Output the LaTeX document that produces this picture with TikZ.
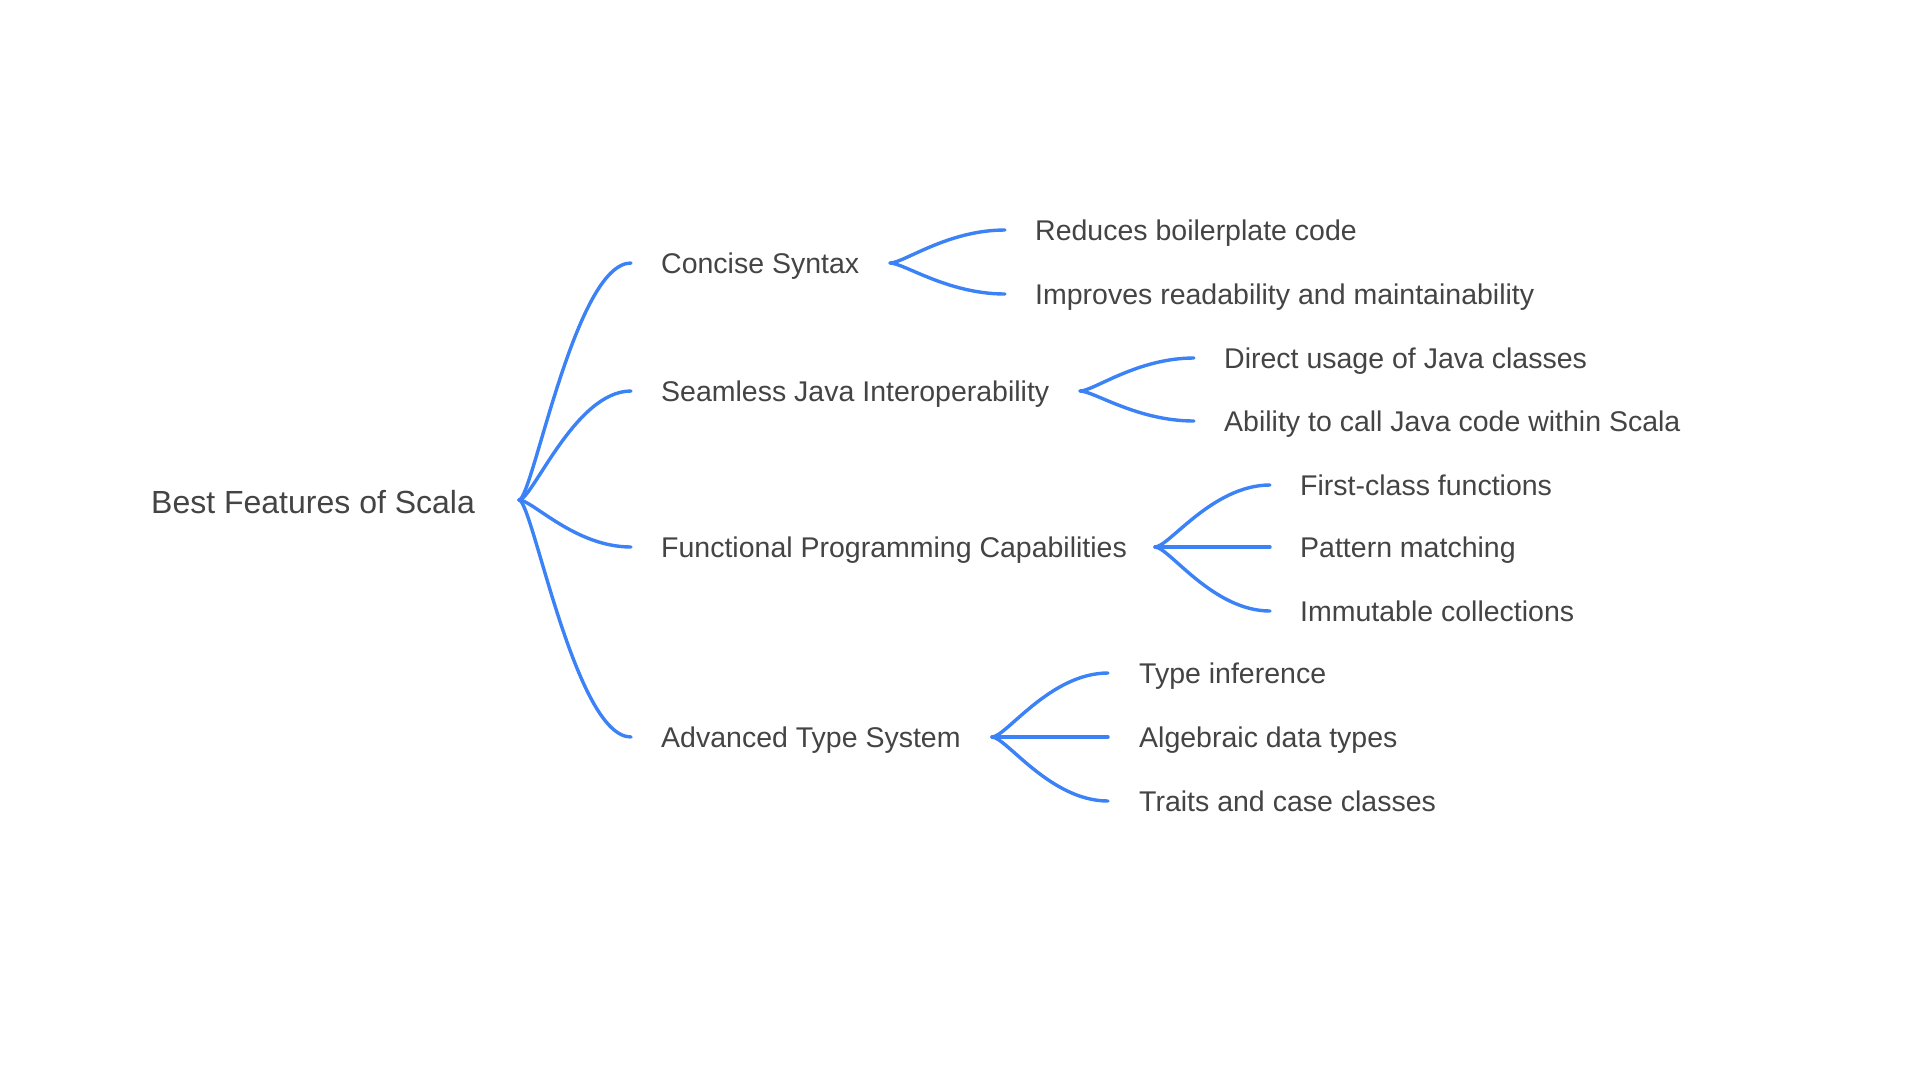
\documentclass[tikz,border=0pt]{standalone}
\usepackage{fontspec}
\setmainfont{Liberation Sans}
\usetikzlibrary{calc}
\definecolor{linkblue}{HTML}{3B82F6}
\definecolor{txtgray}{HTML}{444444}
\newcommand\curvelink[2]{\draw[link] (#1) .. controls ($(#1)!0.12!(#1 -| #2)$) and ($(#2)!0.5!(#2 -| #1)$) .. (#2);}
\begin{document}
\begin{tikzpicture}[x=1pt,y=-1pt,
  rootlabel/.style={anchor=base west, inner sep=0pt, text=txtgray, font=\fontsize{32}{38}\selectfont},
  label/.style={anchor=base west, inner sep=0pt, text=txtgray, font=\fontsize{28.5}{34}\selectfont},
  link/.style={draw=linkblue, line width=3.4pt, line cap=round, line join=round}]
\fill[white] (0,0) rectangle (1920,1080);
\useasboundingbox (0,0) rectangle (1920,1080);

% root
\node[rootlabel] (root) at (151,513) {Best Features of Scala};
\coordinate (root-j) at (519,500);

% level 1
\node[label] (cs) at (661,273) {Concise Syntax};
\node[label] (sj) at (661,401) {Seamless Java Interoperability};
\node[label] (fp) at (661,557) {Functional Programming Capabilities};
\node[label] (at) at (661,747) {Advanced Type System};
\coordinate (cs-in) at (631,263);
\coordinate (sj-in) at (631,391);
\coordinate (fp-in) at (631,547);
\coordinate (at-in) at (631,737);
\coordinate (cs-j) at (890,263);
\coordinate (sj-j) at (1080,391);
\coordinate (fp-j) at (1155,547);
\coordinate (at-j) at (992,737);

% level 2
\node[label] (cs1) at (1035,240) {Reduces boilerplate code};
\node[label] (cs2) at (1035,304) {Improves readability and maintainability};
\node[label] (sj1) at (1224,368) {Direct usage of Java classes};
\node[label] (sj2) at (1224,431) {Ability to call Java code within Scala};
\node[label] (fp1) at (1300,495) {First-class functions};
\node[label] (fp2) at (1300,557) {Pattern matching};
\node[label] (fp3) at (1300,621) {Immutable collections};
\node[label] (at1) at (1139,683) {Type inference};
\node[label] (at2) at (1139,747) {Algebraic data types};
\node[label] (at3) at (1139,811) {Traits and case classes};
\coordinate (cs1-in) at (1005,230);
\coordinate (cs2-in) at (1005,294);
\coordinate (sj1-in) at (1194,358);
\coordinate (sj2-in) at (1194,421);
\coordinate (fp1-in) at (1270,485);
\coordinate (fp2-in) at (1270,547);
\coordinate (fp3-in) at (1270,611);
\coordinate (at1-in) at (1108,673);
\coordinate (at2-in) at (1108,737);
\coordinate (at3-in) at (1108,801);

% connectors
\curvelink{root-j}{cs-in}
\curvelink{root-j}{sj-in}
\curvelink{root-j}{fp-in}
\curvelink{root-j}{at-in}
\curvelink{cs-j}{cs1-in}
\curvelink{cs-j}{cs2-in}
\curvelink{sj-j}{sj1-in}
\curvelink{sj-j}{sj2-in}
\curvelink{fp-j}{fp1-in}
\curvelink{fp-j}{fp2-in}
\curvelink{fp-j}{fp3-in}
\curvelink{at-j}{at1-in}
\curvelink{at-j}{at2-in}
\curvelink{at-j}{at3-in}
\end{tikzpicture}
\end{document}
